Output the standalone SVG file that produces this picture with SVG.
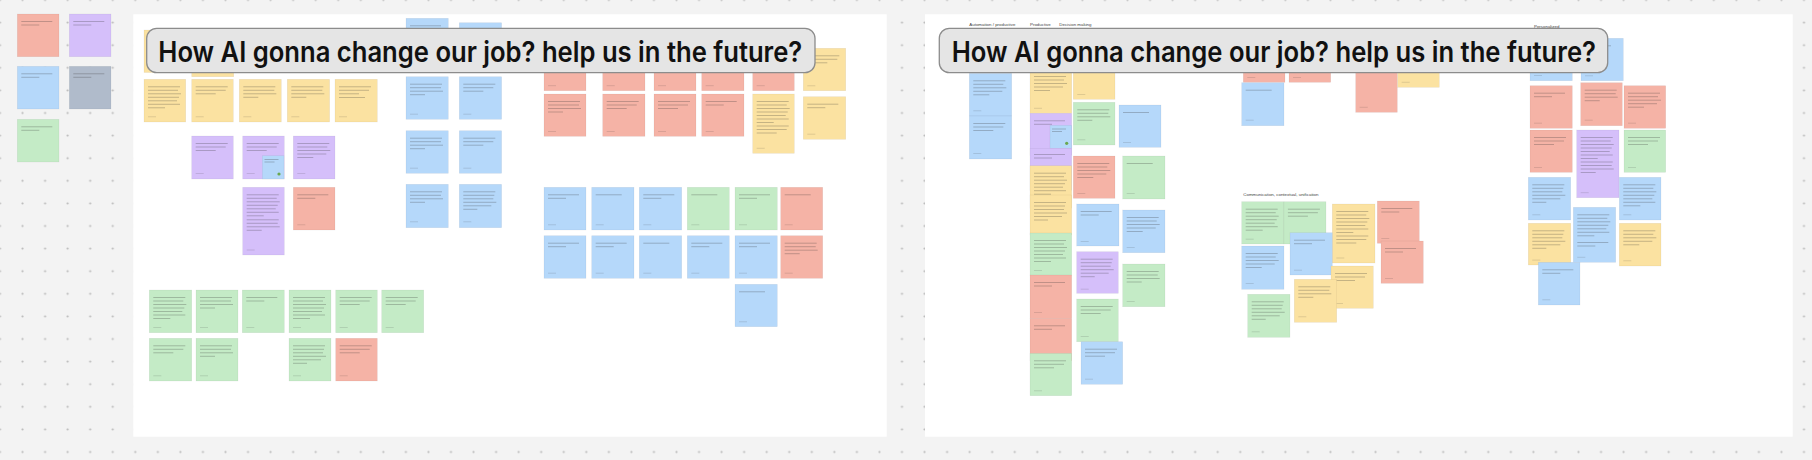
<svg xmlns="http://www.w3.org/2000/svg" xmlns:xlink="http://www.w3.org/1999/xlink" width="1812" height="460" viewBox="0 0 1812 460">
<style>
.bg{fill:#f3f3f3}
.board{fill:#ffffff}
.y{fill:#fbe2a1;stroke:#000;stroke-opacity:.07;stroke-width:.6}
.r{fill:#f5b3a6;stroke:#000;stroke-opacity:.07;stroke-width:.6}
.p{fill:#d5bffa;stroke:#000;stroke-opacity:.07;stroke-width:.6}
.b{fill:#b5d8fa;stroke:#000;stroke-opacity:.07;stroke-width:.6}
.g{fill:#c4ebc6;stroke:#000;stroke-opacity:.07;stroke-width:.6}
.s{fill:#b0bbcb;stroke:#000;stroke-opacity:.07;stroke-width:.6}
.t{stroke:#333;stroke-opacity:.3;stroke-width:.9;fill:none}
.f{stroke:#333;stroke-opacity:.16;stroke-width:.9;fill:none}
.title{fill:#e5e5e5;stroke:#8c8c8c;stroke-width:1.3}
.tt{font-family:Inter,"Liberation Sans",sans-serif;font-size:28px;font-weight:600;fill:#111}
.lb{font-family:"Liberation Sans",Arial,sans-serif;font-size:4.4px;fill:#444}
</style>
<defs>
<pattern id="dots" patternUnits="userSpaceOnUse" x="-11.275" y="-11.3" width="22.55" height="22.6">
<circle cx="11.275" cy="11.3" r="1.1" fill="#b9b9b9"/>
</pattern>
<path id="L1" d="M4 7.5h26"/>
<path id="L2" d="M4 7.5h31M4 11h18"/>
<path id="L3" d="M4 7.5h32M4 11h30M4 14.5h20"/>
<path id="L4" d="M4 7.5h32M4 11h31M4 14.5h33M4 18h15"/>
<path id="L5" d="M4 7.5h32M4 11h30M4 14.5h33M4 18h29M4 21.5h16"/>
<path id="L6" d="M4 7.5h32M4 11h31M4 14.5h30M4 18h33M4 21.5h28M4 25h14"/>
<path id="L7" d="M4 7.5h32M4 11h30M4 14.5h33M4 18h31M4 21.5h29M4 25h32M4 28.5h17"/>
<path id="F" d="M4 37.5h8"/>
</defs>

<rect class="bg" x="0" y="0" width="1812" height="460"/>
<rect x="0" y="0" width="1812" height="460" fill="url(#dots)"/>

<g id="board-left"><rect class="board" x="133.3" y="14.3" width="753.4" height="422.4"/></g>
<g id="board-right"><rect class="board" x="925" y="14.3" width="867.7" height="422.4"/></g>

<!-- loose stickies outside boards -->
<g id="n1"><rect class="r" x="17.3" y="14" width="41.7" height="42.7"/><use class="t" href="#L2" x="17.3" y="14"/></g>
<g id="n2"><rect class="p" x="69.3" y="14" width="41.7" height="42.7"/><use class="t" href="#L2" x="69.3" y="14"/></g>
<g id="n3"><rect class="b" x="17.3" y="66.3" width="41.7" height="42.7"/><use class="t" href="#L2" x="17.3" y="66.3"/></g>
<g id="n4"><rect class="s" x="69.3" y="66.3" width="41.7" height="42.7"/><use class="t" href="#L2" x="69.3" y="66.3"/></g>
<g id="n5"><rect class="g" x="17.3" y="119.3" width="41.7" height="42.7"/><use class="t" href="#L2" x="17.3" y="119.3"/></g>

<!-- left board stickies -->
<g id="l1"><rect class="y" x="144" y="30" width="42" height="42.5"/><use class="t" href="#L2" x="144" y="30"/></g>
<g id="l2"><rect class="y" x="191.7" y="34.2" width="42" height="42.5"/><use class="f" href="#F" x="191.7" y="34.2"/></g>
<g id="l3"><rect class="b" x="406" y="18.3" width="42.3" height="42.5"/><use class="t" href="#L2" x="406" y="18.3"/></g>
<g id="l4"><rect class="b" x="459.3" y="22.7" width="42.3" height="42.5"/><use class="t" href="#L1" x="459.3" y="22.7"/></g>
<g id="l5"><rect class="r" x="544" y="48.2" width="42" height="42.5"/><use class="f" href="#F" x="544" y="48.2"/></g>
<g id="l6"><rect class="r" x="602.7" y="48.2" width="42.3" height="42.5"/><use class="f" href="#F" x="602.7" y="48.2"/></g>
<g id="l7"><rect class="r" x="654" y="48.2" width="42" height="42.5"/><use class="f" href="#F" x="654" y="48.2"/></g>
<g id="l8"><rect class="r" x="701.7" y="48.2" width="42.3" height="42.5"/><use class="f" href="#F" x="701.7" y="48.2"/></g>
<g id="l9"><rect class="r" x="752.7" y="48.2" width="41.6" height="42.5"/><use class="f" href="#F" x="752.7" y="48.2"/></g>
<g id="l10"><rect class="y" x="803.3" y="48.3" width="42.4" height="42.4"/><use class="t" href="#L3" x="803.3" y="48.3"/><use class="f" href="#F" x="803.3" y="48.3"/></g>

<g id="l11"><rect class="y" x="144" y="79.3" width="41.7" height="42.7"/><use class="t" href="#L7" x="144" y="79.3"/><use class="f" href="#F" x="144" y="79.3"/></g>
<g id="l12"><rect class="y" x="191.7" y="79.3" width="41.6" height="42.7"/><use class="t" href="#L3" x="191.7" y="79.3"/><use class="f" href="#F" x="191.7" y="79.3"/></g>
<g id="l13"><rect class="y" x="239.3" y="79.3" width="42" height="42.7"/><use class="t" href="#L4" x="239.3" y="79.3"/><use class="f" href="#F" x="239.3" y="79.3"/></g>
<g id="l14"><rect class="y" x="287.3" y="79.3" width="42.3" height="42.7"/><use class="t" href="#L4" x="287.3" y="79.3"/><use class="f" href="#F" x="287.3" y="79.3"/></g>
<g id="l15"><rect class="y" x="335" y="79.3" width="42.3" height="42.7"/><use class="t" href="#L3" x="335" y="79.3"/><use class="t" href="#L1" x="335" y="90"/><use class="f" href="#F" x="335" y="79.3"/></g>

<g id="l16"><rect class="p" x="191.7" y="136" width="41.6" height="43"/><use class="t" href="#L3" x="191.7" y="136"/><use class="f" href="#F" x="191.7" y="136"/></g>
<g id="l17"><rect class="p" x="242.7" y="136" width="41.6" height="43"/><use class="t" href="#L3" x="242.7" y="136"/><use class="f" href="#F" x="242.7" y="136"/><rect class="b" x="262.3" y="155.7" width="21.7" height="23.3"/><path class="t" d="M264.5 159.5h14M264.5 162h10" stroke-width=".6"/><circle cx="279" cy="174" r="1.6" fill="#6aa84f"/></g>
<g id="l18"><rect class="p" x="293.3" y="136" width="41.7" height="43"/><use class="t" href="#L5" x="293.3" y="136"/><use class="f" href="#F" x="293.3" y="136"/></g>
<g id="l19"><rect class="p" x="242.7" y="187.3" width="41.6" height="67.7"/><use class="t" href="#L7" x="242.7" y="187.3"/><use class="t" href="#L4" x="242.7" y="212.3"/><use class="f" href="#F" x="242.7" y="212.5"/></g>
<g id="l20"><rect class="r" x="293.3" y="187.3" width="41.7" height="42.7"/><use class="t" href="#L2" x="293.3" y="187.3"/><use class="f" href="#F" x="293.3" y="187.3"/></g>

<g id="l21"><rect class="b" x="406" y="76.7" width="42.3" height="42.6"/><use class="t" href="#L4" x="406" y="76.7"/><use class="f" href="#F" x="406" y="76.7"/></g>
<g id="l22"><rect class="b" x="406" y="130.7" width="42.3" height="42.6"/><use class="t" href="#L4" x="406" y="130.7"/><use class="f" href="#F" x="406" y="130.7"/></g>
<g id="l23"><rect class="b" x="406" y="184.3" width="42.3" height="43.4"/><use class="t" href="#L4" x="406" y="184.3"/><use class="f" href="#F" x="406" y="184.3"/></g>
<g id="l24"><rect class="b" x="459.3" y="76.7" width="42.3" height="42.6"/><use class="t" href="#L3" x="459.3" y="76.7"/><use class="f" href="#F" x="459.3" y="76.7"/></g>
<g id="l25"><rect class="b" x="459.3" y="130.7" width="42.3" height="42.6"/><use class="t" href="#L3" x="459.3" y="130.7"/><use class="f" href="#F" x="459.3" y="130.7"/></g>
<g id="l26"><rect class="b" x="459.3" y="184.3" width="42.3" height="43.4"/><use class="t" href="#L6" x="459.3" y="184.3"/><use class="f" href="#F" x="459.3" y="184.3"/></g>

<g id="l27"><rect class="r" x="544" y="94" width="42" height="42.3"/><use class="t" href="#L4" x="544" y="94"/><use class="f" href="#F" x="544" y="94"/></g>
<g id="l28"><rect class="r" x="602.7" y="94" width="42.3" height="42.3"/><use class="t" href="#L3" x="602.7" y="94"/><use class="f" href="#F" x="602.7" y="94"/></g>
<g id="l29"><rect class="r" x="654" y="94" width="42" height="42.3"/><use class="t" href="#L3" x="654" y="94"/><use class="f" href="#F" x="654" y="94"/></g>
<g id="l30"><rect class="r" x="701.7" y="94" width="42.3" height="42.3"/><use class="t" href="#L2" x="701.7" y="94"/><use class="f" href="#F" x="701.7" y="94"/></g>
<g id="l31"><rect class="y" x="752.7" y="94" width="41.6" height="59.3"/><use class="t" href="#L7" x="752.7" y="94"/><use class="t" href="#L3" x="752.7" y="118.5"/><use class="f" href="#F" x="752.7" y="110.8"/></g>
<g id="l32"><rect class="y" x="803.3" y="96.7" width="42.4" height="42.6"/><use class="t" href="#L2" x="803.3" y="96.7"/><use class="f" href="#F" x="803.3" y="96.7"/></g>

<g id="l33"><rect class="b" x="544" y="187.3" width="42" height="42.7"/><use class="t" href="#L2" x="544" y="187.3"/><use class="f" href="#F" x="544" y="187.3"/></g>
<g id="l34"><rect class="b" x="591.7" y="187.3" width="42.3" height="42.7"/><use class="t" href="#L1" x="591.7" y="187.3"/><use class="f" href="#F" x="591.7" y="187.3"/></g>
<g id="l35"><rect class="b" x="639.3" y="187.3" width="42.4" height="42.7"/><use class="t" href="#L2" x="639.3" y="187.3"/><use class="f" href="#F" x="639.3" y="187.3"/></g>
<g id="l36"><rect class="g" x="687.3" y="187.3" width="42" height="42.7"/><use class="t" href="#L1" x="687.3" y="187.3"/><use class="f" href="#F" x="687.3" y="187.3"/></g>
<g id="l37"><rect class="g" x="735" y="187.3" width="42.3" height="42.7"/><use class="t" href="#L2" x="735" y="187.3"/><use class="f" href="#F" x="735" y="187.3"/></g>
<g id="l38"><rect class="r" x="780.7" y="187.3" width="42" height="42.7"/><use class="t" href="#L1" x="780.7" y="187.3"/><use class="f" href="#F" x="780.7" y="187.3"/></g>

<g id="l39"><rect class="b" x="544" y="235.7" width="42" height="42.6"/><use class="t" href="#L2" x="544" y="235.7"/><use class="f" href="#F" x="544" y="235.7"/></g>
<g id="l40"><rect class="b" x="591.7" y="235.7" width="42.3" height="42.6"/><use class="t" href="#L2" x="591.7" y="235.7"/><use class="f" href="#F" x="591.7" y="235.7"/></g>
<g id="l41"><rect class="b" x="639.3" y="235.7" width="42.4" height="42.6"/><use class="t" href="#L1" x="639.3" y="235.7"/><use class="f" href="#F" x="639.3" y="235.7"/></g>
<g id="l42"><rect class="b" x="687.3" y="235.7" width="42" height="42.6"/><use class="t" href="#L2" x="687.3" y="235.7"/><use class="f" href="#F" x="687.3" y="235.7"/></g>
<g id="l43"><rect class="b" x="735" y="235.7" width="42.3" height="42.6"/><use class="t" href="#L2" x="735" y="235.7"/><use class="f" href="#F" x="735" y="235.7"/></g>
<g id="l44"><rect class="r" x="780.7" y="235.7" width="42" height="42.6"/><use class="t" href="#L4" x="780.7" y="235.7"/><use class="f" href="#F" x="780.7" y="235.7"/></g>
<g id="l45"><rect class="b" x="735" y="284.3" width="42.3" height="42.4"/><use class="t" href="#L1" x="735" y="284.3"/><use class="f" href="#F" x="735" y="284.3"/></g>

<g id="l46"><rect class="g" x="149.3" y="290" width="42.4" height="42.7"/><use class="t" href="#L7" x="149.3" y="290"/><use class="f" href="#F" x="149.3" y="290"/></g>
<g id="l47"><rect class="g" x="196" y="290" width="42" height="42.7"/><use class="t" href="#L4" x="196" y="290"/><use class="f" href="#F" x="196" y="290"/></g>
<g id="l48"><rect class="g" x="242.3" y="290" width="42" height="42.7"/><use class="t" href="#L2" x="242.3" y="290"/><use class="f" href="#F" x="242.3" y="290"/></g>
<g id="l49"><rect class="g" x="289" y="290" width="42" height="42.7"/><use class="t" href="#L7" x="289" y="290"/><use class="f" href="#F" x="289" y="290"/></g>
<g id="l50"><rect class="g" x="335.7" y="290" width="41.6" height="42.7"/><use class="t" href="#L3" x="335.7" y="290"/><use class="f" href="#F" x="335.7" y="290"/></g>
<g id="l51"><rect class="g" x="381.7" y="290" width="42" height="42.7"/><use class="t" href="#L3" x="381.7" y="290"/><use class="f" href="#F" x="381.7" y="290"/></g>
<g id="l52"><rect class="g" x="149.3" y="338.3" width="42.4" height="42.7"/><use class="t" href="#L3" x="149.3" y="338.3"/><use class="f" href="#F" x="149.3" y="338.3"/></g>
<g id="l53"><rect class="g" x="196" y="338.3" width="42" height="42.7"/><use class="t" href="#L4" x="196" y="338.3"/><use class="f" href="#F" x="196" y="338.3"/></g>
<g id="l54"><rect class="g" x="289" y="338.3" width="42" height="42.7"/><use class="t" href="#L6" x="289" y="338.3"/><use class="f" href="#F" x="289" y="338.3"/></g>
<g id="l55"><rect class="r" x="335.7" y="338.3" width="41.6" height="42.7"/><use class="t" href="#L3" x="335.7" y="338.3"/><use class="f" href="#F" x="335.7" y="338.3"/></g>

<!-- right board labels -->
<g id="labels">
<text class="lb" x="969.3" y="25.5">Automation / productive</text>
<text class="lb" x="1030" y="25.5">Productive</text>
<text class="lb" x="1059.3" y="25.5">Decision making</text>
<text class="lb" x="1534" y="28">Personalized</text>
<text class="lb" x="1243.3" y="195.8" font-size="4.6">Communication, contextual, unification</text>
</g>

<!-- right board stickies -->
<g id="r1"><rect class="b" x="969.3" y="73.3" width="42.4" height="42.7"/><use class="t" href="#L5" x="969.3" y="73.3"/><use class="f" href="#F" x="969.3" y="73.3"/></g>
<g id="r2"><rect class="b" x="969.3" y="116" width="42.4" height="43"/><use class="t" href="#L3" x="969.3" y="116"/><use class="f" href="#F" x="969.3" y="116"/></g>
<g id="r3"><rect class="y" x="1030" y="66" width="41.7" height="47.3"/><use class="t" href="#L5" x="1030" y="69"/><use class="f" href="#F" x="1030" y="70.8"/></g>
<g id="r4"><rect class="p" x="1030" y="113.3" width="41.7" height="42"/><use class="t" href="#L2" x="1030" y="113.3"/><use class="f" href="#F" x="1030" y="113.3"/><rect class="b" x="1050" y="125.3" width="21.7" height="23"/><path class="t" d="M1052 129h14M1052 131.5h10" stroke-width=".6"/><circle cx="1066.7" cy="143.3" r="1.6" fill="#6aa84f"/></g>
<g id="r5"><rect class="p" x="1030" y="148.3" width="41.7" height="42"/><use class="t" href="#L2" x="1030" y="147"/></g>
<g id="r6"><rect class="y" x="1030" y="165.7" width="41.7" height="42.5"/><use class="t" href="#L7" x="1030" y="165.7"/></g>
<g id="r7"><rect class="y" x="1030" y="195" width="41.7" height="40"/><use class="t" href="#L6" x="1030" y="195"/></g>
<g id="r8"><rect class="g" x="1030" y="233" width="41.7" height="42.5"/><use class="t" href="#L7" x="1030" y="233"/><use class="f" href="#F" x="1030" y="233"/></g>
<g id="r9"><rect class="r" x="1030" y="275" width="41.7" height="43.3"/><use class="t" href="#L2" x="1030" y="275"/><use class="f" href="#F" x="1030" y="275"/></g>
<g id="r10"><rect class="r" x="1030" y="318.3" width="41.7" height="42.5"/><use class="t" href="#L2" x="1030" y="318.3"/></g>
<g id="r11"><rect class="g" x="1030" y="353.3" width="41.7" height="42.4"/><use class="t" href="#L3" x="1030" y="353.3"/><use class="f" href="#F" x="1030" y="353.3"/></g>
<g id="r12"><rect class="y" x="1073.3" y="57" width="41.7" height="42.3"/><use class="f" href="#F" x="1073.3" y="57"/></g>
<g id="r13"><rect class="g" x="1073.3" y="102.3" width="41.7" height="42.7"/><use class="t" href="#L4" x="1073.3" y="102.3"/><use class="f" href="#F" x="1073.3" y="102.3"/></g>
<g id="r14"><rect class="b" x="1119" y="105" width="42" height="42.3"/><use class="t" href="#L1" x="1119" y="105"/><use class="f" href="#F" x="1119" y="105"/></g>
<g id="r15"><rect class="r" x="1073.3" y="156" width="41.7" height="42.3"/><use class="t" href="#L5" x="1073.3" y="156"/><use class="f" href="#F" x="1073.3" y="156"/></g>
<g id="r16"><rect class="g" x="1122.7" y="156" width="42.3" height="43"/><use class="t" href="#L1" x="1122.7" y="156"/><use class="f" href="#F" x="1122.7" y="156"/></g>
<g id="r17"><rect class="b" x="1076.7" y="204" width="42.3" height="42"/><use class="t" href="#L2" x="1076.7" y="204"/><use class="f" href="#F" x="1076.7" y="204"/></g>
<g id="r18"><rect class="b" x="1122.7" y="210" width="42.3" height="42.7"/><use class="t" href="#L5" x="1122.7" y="210"/><use class="f" href="#F" x="1122.7" y="210"/></g>
<g id="r19"><rect class="p" x="1076.7" y="251.7" width="41.6" height="41.6"/><use class="t" href="#L6" x="1076.7" y="251.7"/><use class="f" href="#F" x="1076.7" y="251.7"/></g>
<g id="r20"><rect class="g" x="1122.7" y="264" width="42.3" height="42.7"/><use class="t" href="#L4" x="1122.7" y="264"/><use class="f" href="#F" x="1122.7" y="264"/></g>
<g id="r21"><rect class="g" x="1076.7" y="299" width="41.6" height="42.7"/><use class="t" href="#L3" x="1076.7" y="299"/><use class="f" href="#F" x="1076.7" y="299"/></g>
<g id="r22"><rect class="b" x="1081" y="341.7" width="41.7" height="42.6"/><use class="t" href="#L3" x="1081" y="341.7"/><use class="f" href="#F" x="1081" y="341.7"/></g>

<g id="r23"><rect class="r" x="1243.3" y="40" width="41.7" height="42.3"/><use class="f" href="#F" x="1243.3" y="40"/></g>
<g id="r24"><rect class="r" x="1289" y="40" width="41.7" height="42.3"/><use class="f" href="#F" x="1289" y="40"/></g>
<g id="r25"><rect class="b" x="1241.7" y="82.7" width="42.3" height="43"/><use class="t" href="#L1" x="1241.7" y="82.7"/><use class="f" href="#F" x="1241.7" y="82.7"/></g>
<g id="r26"><rect class="g" x="1241.7" y="201.7" width="42.2" height="42.3"/><use class="t" href="#L7" x="1241.7" y="201.7"/><use class="f" href="#F" x="1241.7" y="201.7"/></g>
<g id="r27"><rect class="g" x="1283.9" y="201.7" width="42.1" height="42.3"/><use class="t" href="#L3" x="1283.9" y="201.7"/></g>
<g id="r28"><rect class="y" x="1332.3" y="204" width="42.7" height="59"/><use class="t" href="#L7" x="1332.3" y="204"/><use class="t" href="#L3" x="1332.3" y="228.5"/><use class="f" href="#F" x="1332.3" y="220.5"/></g>
<g id="r29"><rect class="b" x="1241.7" y="246" width="42.3" height="43.3"/><use class="t" href="#L5" x="1241.7" y="246"/><use class="f" href="#F" x="1241.7" y="246"/></g>
<g id="r30"><rect class="b" x="1290" y="232.7" width="42.3" height="42.3"/><use class="t" href="#L2" x="1290" y="232.7"/><use class="f" href="#F" x="1290" y="232.7"/></g>
<g id="r31"><rect class="g" x="1247.7" y="294.3" width="42.3" height="43"/><use class="t" href="#L6" x="1247.7" y="294.3"/><use class="f" href="#F" x="1247.7" y="294.3"/></g>
<g id="r32"><rect class="y" x="1331" y="266" width="42.3" height="42.3"/><use class="t" href="#L3" x="1331" y="266"/><use class="f" href="#F" x="1331" y="266"/></g>
<g id="r33"><rect class="y" x="1294.3" y="279.3" width="42.4" height="43"/><use class="t" href="#L4" x="1294.3" y="279.3"/><use class="f" href="#F" x="1294.3" y="279.3"/></g>
<g id="r34"><rect class="r" x="1355.7" y="69.8" width="41.6" height="42.5"/><use class="f" href="#F" x="1355.7" y="69.8"/></g>
<g id="r35"><rect class="y" x="1397.7" y="44.8" width="41.6" height="42.5"/><use class="f" href="#F" x="1397.7" y="44.8"/></g>
<g id="r36"><rect class="r" x="1377.3" y="201" width="42" height="42.3"/><use class="t" href="#L2" x="1377.3" y="201"/><use class="f" href="#F" x="1377.3" y="201"/></g>
<g id="r37"><rect class="r" x="1381" y="241" width="42.3" height="42.3"/><use class="t" href="#L2" x="1381" y="241"/><use class="f" href="#F" x="1381" y="241"/></g>

<g id="r38"><rect class="b" x="1530" y="38" width="42.3" height="42.7"/><use class="f" href="#F" x="1530" y="38"/></g>
<g id="r39"><rect class="b" x="1581" y="38.3" width="42.3" height="42.4"/><use class="t" href="#L1" x="1581" y="38.3"/><use class="f" href="#F" x="1581" y="38.3"/></g>
<g id="r40"><rect class="r" x="1530" y="85.7" width="42.3" height="42.6"/><use class="t" href="#L2" x="1530" y="85.7"/><use class="f" href="#F" x="1530" y="85.7"/></g>
<g id="r41"><rect class="r" x="1580.7" y="82.7" width="41.6" height="43"/><use class="t" href="#L4" x="1580.7" y="82.7"/><use class="f" href="#F" x="1580.7" y="82.7"/></g>
<g id="r42"><rect class="r" x="1624" y="85.7" width="41.7" height="42.6"/><use class="t" href="#L5" x="1624" y="85.7"/><use class="f" href="#F" x="1624" y="85.7"/></g>
<g id="r43"><rect class="r" x="1530" y="130" width="42.3" height="42.3"/><use class="t" href="#L3" x="1530" y="130"/><use class="f" href="#F" x="1530" y="130"/></g>
<g id="r44"><rect class="p" x="1576.7" y="130" width="42.3" height="67.7"/><use class="t" href="#L7" x="1576.7" y="130"/><use class="t" href="#L4" x="1576.7" y="154.5"/><use class="f" href="#F" x="1576.7" y="155.2"/></g>
<g id="r45"><rect class="g" x="1624" y="130" width="41.7" height="42.3"/><use class="t" href="#L3" x="1624" y="130"/><use class="f" href="#F" x="1624" y="130"/></g>
<g id="r46"><rect class="b" x="1528.3" y="177.3" width="42.4" height="42.7"/><use class="t" href="#L6" x="1528.3" y="177.3"/><use class="f" href="#F" x="1528.3" y="177.3"/></g>
<g id="r47"><rect class="b" x="1619.3" y="177.3" width="41.7" height="42.7"/><use class="t" href="#L7" x="1619.3" y="177.3"/><use class="f" href="#F" x="1619.3" y="177.3"/></g>
<g id="r48"><rect class="y" x="1528.3" y="223.3" width="42.4" height="41.7"/><use class="t" href="#L6" x="1528.3" y="223.3"/><use class="f" href="#F" x="1528.3" y="222.6"/></g>
<g id="r49"><rect class="b" x="1573.3" y="207.3" width="42.4" height="55"/><use class="t" href="#L7" x="1573.3" y="207.3"/><use class="t" href="#L2" x="1573.3" y="235"/><use class="f" href="#F" x="1573.3" y="219.8"/></g>
<g id="r50"><rect class="y" x="1619.3" y="223.3" width="41.7" height="42.7"/><use class="t" href="#L5" x="1619.3" y="223.3"/><use class="f" href="#F" x="1619.3" y="223.3"/></g>
<g id="r51"><rect class="b" x="1538.3" y="262.3" width="41.7" height="42.7"/><use class="t" href="#L2" x="1538.3" y="262.3"/><use class="f" href="#F" x="1538.3" y="262.3"/></g>

<g id="connectors"/>

<!-- titles -->
<g id="title-left"><rect class="title" x="146.7" y="28.3" width="668.3" height="44.4" rx="10"/><text class="tt" x="158.3" y="61.7" textLength="644" lengthAdjust="spacingAndGlyphs">How AI gonna change our job? help us in the future?</text></g>
<g id="title-right"><rect class="title" x="939.3" y="28.3" width="668.4" height="44.4" rx="10"/><text class="tt" x="951.7" y="61.7" textLength="644.3" lengthAdjust="spacingAndGlyphs">How AI gonna change our job? help us in the future?</text></g>
</svg>
